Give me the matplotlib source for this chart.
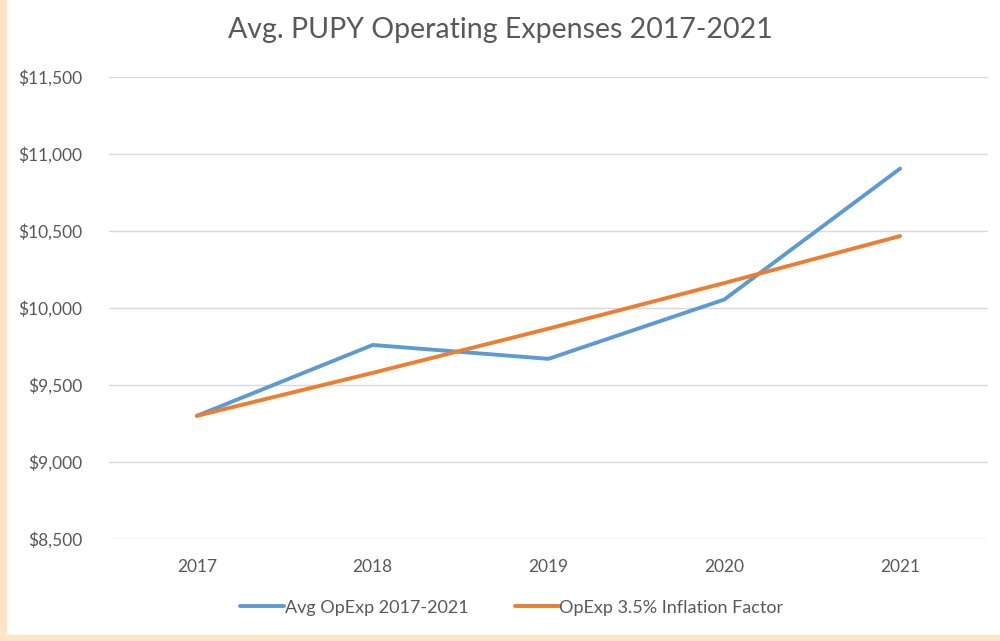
import matplotlib.pyplot as plt
from matplotlib.patches import Rectangle
from matplotlib.ticker import FuncFormatter, MultipleLocator

plt.rcParams['font.family'] = ['Lato', 'DejaVu Sans']

years = ['2017', '2018', '2019', '2020', '2021']
avg_opexp = [9300, 9760, 9670, 10055, 10905]
inflation = [9300, 9579, 9866, 10162, 10467]

fig = plt.figure(figsize=(10, 6.41), dpi=100)
ax = fig.add_axes([0.109, 0.159, 0.879, 0.721])

x = range(len(years))
ax.plot(x, avg_opexp, color='#5B9BD5', lw=2.8, label='Avg OpExp 2017-2021', solid_capstyle='round')
ax.plot(x, inflation, color='#ED7D31', lw=2.8, label='OpExp 3.5% Inflation Factor', solid_capstyle='round')

ax.set_xlim(-0.5, len(years) - 0.5)
ax.set_ylim(8500, 11500)
ax.yaxis.set_major_locator(MultipleLocator(500))
ax.yaxis.set_major_formatter(FuncFormatter(lambda v, p: f'${v:,.0f}'))
ax.set_xticks(list(x))
ax.set_xticklabels(years)
ax.grid(axis='y', color='#D9D9D9', lw=1)
ax.set_axisbelow(True)
for s in ax.spines.values():
    s.set_visible(False)
ax.tick_params(length=0, labelsize=12.5, colors='#595959', pad=14)
ax.tick_params(axis='y', pad=19)

fig.suptitle('Avg. PUPY Operating Expenses 2017-2021', y=0.973, fontsize=20.5, color='#595959')

fig.legend(loc='center', bbox_to_anchor=(0.512, 0.052), ncol=2, frameon=False,
           fontsize=13, labelcolor='#595959', handlelength=2.4, handletextpad=0.05,
           columnspacing=2.6)

# peach border on left and bottom
fig.patches.append(Rectangle((0, 0), 0.006, 1, transform=fig.transFigure, color='#FCE4C6', zorder=0))
fig.patches.append(Rectangle((0, 0), 1, 0.01, transform=fig.transFigure, color='#FCE4C6', zorder=0))

fig.savefig('out.png', dpi=100)
